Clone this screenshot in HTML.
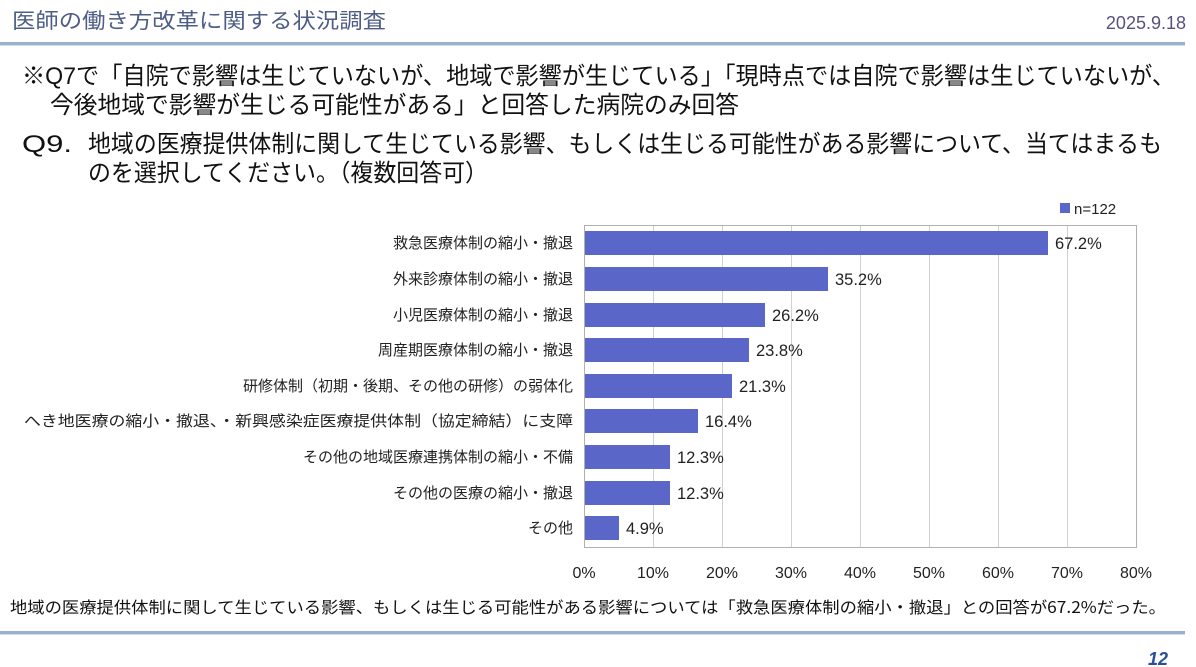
<!DOCTYPE html>
<html><head><meta charset="utf-8"><style>
html,body{margin:0;padding:0;background:#fff;}
svg{display:block;}
text{font-family:"Liberation Sans","Noto Sans CJK JP",sans-serif;}
</style></head><body>
<svg width="1196" height="667" viewBox="0 0 1196 667" xmlns="http://www.w3.org/2000/svg">
<rect width="1196" height="667" fill="#fff"/>
<text x="12" y="28" font-size="21" fill="#4d5d85" textLength="374" lengthAdjust="spacingAndGlyphs" style="font-family:'Noto Sans CJK JP',sans-serif">医師の働き方改革に関する状況調査</text>
<text x="1186" y="29" font-size="18" fill="#5a5080" text-anchor="end">2025.9.18</text>
<rect x="0" y="42" width="1185" height="3" fill="#9ab0d0"/>
<rect x="0" y="45" width="1185" height="1" fill="#d5deeb"/>
<g font-size="24" fill="#111" style="font-family:'Noto Sans CJK JP',sans-serif">
<text x="22" y="84" textLength="1153" lengthAdjust="spacingAndGlyphs">※Q7で「自院で影響は生じていないが、地域で影響が生じている」「現時点では自院で影響は生じていないが、</text>
<text x="50" y="113" textLength="689" lengthAdjust="spacingAndGlyphs">今後地域で影響が生じる可能性がある」と回答した病院のみ回答</text>
<text x="22" y="152" textLength="50" lengthAdjust="spacingAndGlyphs">Q9.</text>
<text x="88" y="152" textLength="1074" lengthAdjust="spacingAndGlyphs">地域の医療提供体制に関して生じている影響、もしくは生じる可能性がある影響について、当てはまるも</text>
<text x="88" y="181" textLength="400" lengthAdjust="spacingAndGlyphs">のを選択してください。（複数回答可）</text>
</g>
<rect x="1060" y="203" width="10" height="10" fill="#5a67c8"/>
<text x="1074" y="214" font-size="15" fill="#222">n=122</text>
<g stroke="#d0d0d0" stroke-width="1">
<line x1="653.5" y1="225" x2="653.5" y2="548"/>
<line x1="722.5" y1="225" x2="722.5" y2="548"/>
<line x1="791.5" y1="225" x2="791.5" y2="548"/>
<line x1="860.5" y1="225" x2="860.5" y2="548"/>
<line x1="929.5" y1="225" x2="929.5" y2="548"/>
<line x1="998.5" y1="225" x2="998.5" y2="548"/>
<line x1="1067.5" y1="225" x2="1067.5" y2="548"/>
</g>
<rect x="584.5" y="225.5" width="552" height="322" fill="none" stroke="#b0b0b0"/>
<g fill="#5a67c8">
<rect x="585" y="231" width="463" height="24"/>
<rect x="585" y="267" width="243" height="24"/>
<rect x="585" y="303" width="180" height="24"/>
<rect x="585" y="338" width="164" height="24"/>
<rect x="585" y="374" width="147" height="24"/>
<rect x="585" y="409" width="113" height="24"/>
<rect x="585" y="445" width="85" height="24"/>
<rect x="585" y="481" width="85" height="24"/>
<rect x="585" y="516" width="34" height="24"/>
</g>
<g font-size="16.5" fill="#222">
<text x="1055" y="249">67.2%</text>
<text x="835" y="285">35.2%</text>
<text x="772" y="321">26.2%</text>
<text x="756" y="356">23.8%</text>
<text x="739" y="392">21.3%</text>
<text x="705" y="427">16.4%</text>
<text x="677" y="463">12.3%</text>
<text x="677" y="499">12.3%</text>
<text x="626" y="534">4.9%</text>
</g>
<g font-size="15" fill="#222" text-anchor="end" style="font-family:'Noto Sans CJK JP',sans-serif">
<text x="573" y="248">救急医療体制の縮小・撤退</text>
<text x="573" y="284">外来診療体制の縮小・撤退</text>
<text x="573" y="320">小児医療体制の縮小・撤退</text>
<text x="573" y="355">周産期医療体制の縮小・撤退</text>
<text x="573" y="391">研修体制（初期・後期、その他の研修）の弱体化</text>
<text x="573" y="426" textLength="549" lengthAdjust="spacingAndGlyphs">へき地医療の縮小・撤退、・新興感染症医療提供体制（協定締結）に支障</text>
<text x="573" y="462">その他の地域医療連携体制の縮小・不備</text>
<text x="573" y="498">その他の医療の縮小・撤退</text>
<text x="573" y="533">その他</text>
</g>
<g font-size="16" fill="#222" text-anchor="middle">
<text x="584" y="578">0%</text>
<text x="653" y="578">10%</text>
<text x="722" y="578">20%</text>
<text x="791" y="578">30%</text>
<text x="860" y="578">40%</text>
<text x="929" y="578">50%</text>
<text x="998" y="578">60%</text>
<text x="1067" y="578">70%</text>
<text x="1136" y="578">80%</text>
</g>
<text x="10" y="613" font-size="16" fill="#111" textLength="1156" lengthAdjust="spacingAndGlyphs" style="font-family:'Noto Sans CJK JP',sans-serif">地域の医療提供体制に関して生じている影響、もしくは生じる可能性がある影響については「救急医療体制の縮小・撤退」との回答が67.2%だった。</text>
<rect x="0" y="631" width="1185" height="3" fill="#9ab0d0"/>
<rect x="0" y="634" width="1185" height="1" fill="#d5deeb"/>
<text x="1168" y="665" font-size="18" font-weight="bold" font-style="italic" fill="#2a4f9a" text-anchor="end">12</text>
</svg>
</body></html>
